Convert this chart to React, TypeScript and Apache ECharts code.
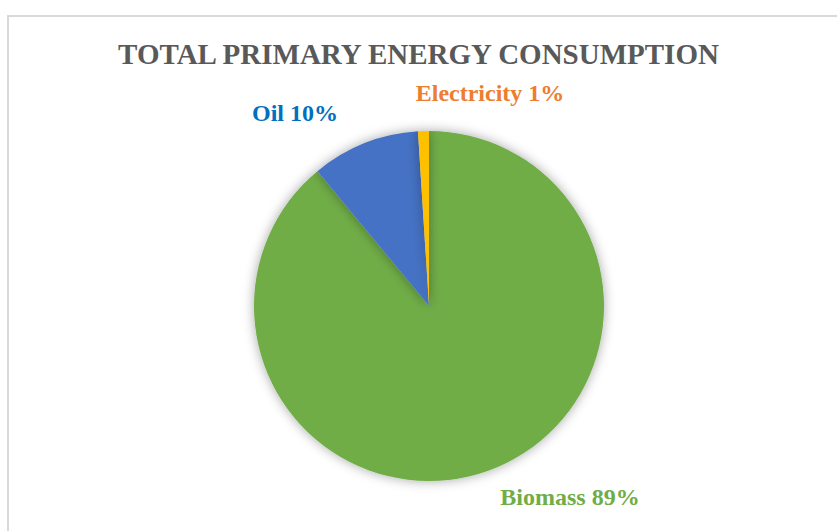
import React, { useEffect, useRef } from "react";
import * as echarts from "echarts";

const categories = ["Biomass", "Oil", "Electricity"];
const values = [89, 10, 1];
const sliceColors = ["#70AD47", "#4472C4", "#FFC000"];
const labelColors = ["#70AD47", "#0070C0", "#ED7D31"];
const labelCenters = [
  [570, 497],
  [295, 113],
  [490, 93],
];

export default function App() {
  const ref = useRef<HTMLDivElement>(null);
  useEffect(() => {
    document.body.style.margin = "0";
    const chart = echarts.init(ref.current!, null, { renderer: "svg" });
    chart.setOption({
      animation: false,
      backgroundColor: "#ffffff",
      title: {
        text: "TOTAL PRIMARY ENERGY CONSUMPTION",
        left: "center",
        top: 34,
        textStyle: {
          fontFamily: "Liberation Serif",
          fontWeight: "bold",
          fontSize: 29,
          color: "#595959",
        },
      },
      graphic: [
        {
          type: "rect",
          shape: { x: 8, y: 16, width: 840, height: 530 },
          style: { fill: "none", stroke: "#d9d9d9", lineWidth: 2 },
          silent: true,
        },
      ],
      series: [
        {
          type: "pie",
          center: [429, 306],
          radius: 175,
          startAngle: 90,
          clockwise: true,
          data: categories.map((c, i) => ({
            name: c,
            value: values[i],
            itemStyle: { color: sliceColors[i] },
            label: { color: labelColors[i] },
          })),
          itemStyle: {
            shadowBlur: 12,
            shadowColor: "rgba(0,0,0,0.35)",
          },
          label: {
            show: true,
            position: "outside",
            formatter: "{b} {d}%",
            fontFamily: "Liberation Serif",
            fontWeight: "bold",
            fontSize: 24,
          },
          labelLine: { show: false },
          labelLayout: (params: any) => {
            const p = labelCenters[params.dataIndex];
            return { x: p[0], y: p[1], align: "center", verticalAlign: "middle" };
          },
        },
      ],
    });
    return () => chart.dispose();
  }, []);
  return <div ref={ref} style={{ width: 837, height: 531 }} />;
}
